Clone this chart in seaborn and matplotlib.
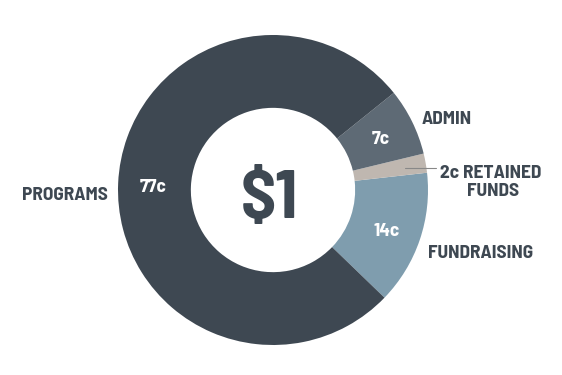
import numpy as np
import matplotlib
matplotlib.use('Agg')
import matplotlib.pyplot as plt
import seaborn as sns

# cents of each dollar, in drawing order (counter-clockwise from lower right)
categories = ['FUNDRAISING', 'RETAINED FUNDS', 'ADMIN', 'PROGRAMS']
cents = [14, 2, 7, 77]
inner_labels = ['14c', '', '7c', '77c']
colors = ['#7f9dae', '#bfb7b0', '#5e6a75', '#3e4852']

sns.set_theme(style='white')
plt.rcParams['font.family'] = ['Barlow Semi Condensed', 'DejaVu Sans']
plt.rcParams['font.weight'] = 'bold'

txt = '#3e4852'
fig = plt.figure(figsize=(5.62, 3.75), dpi=100)
ax = fig.add_axes([0, 0, 1, 1])

wedges, _ = ax.pie(cents, colors=colors, startangle=-44, counterclock=True,
                   radius=1, wedgeprops=dict(width=0.47, linewidth=0))

def px(x, y):
    # pixel position in the 562x375 picture -> data coords
    return (x - 273) / 155, (190 - y) / 155

# white value labels in the ring
for w, lab in zip(wedges, inner_labels):
    if not lab:
        continue
    ang = np.deg2rad((w.theta1 + w.theta2) / 2)
    r = 0.775
    ax.text(r * np.cos(ang), r * np.sin(ang) - 3 / 155, lab, color='white',
            fontsize=14, fontweight='bold', ha='center', va='center')

ax.text(*px(269, 200), '$1', color=txt, fontsize=50, fontweight='bold',
        ha='center', va='center')
ax.text(*px(108, 195), 'PROGRAMS', color=txt, fontsize=14, ha='right', va='center')
ax.text(*px(422, 119), 'ADMIN', color=txt, fontsize=14, ha='left', va='center')
ax.text(*px(440, 174), '2c RETAINED', color=txt, fontsize=14, ha='left', va='center')
ax.text(*px(467, 191), 'FUNDS', color=txt, fontsize=14, ha='left', va='center')
ax.text(*px(428, 253), 'FUNDRAISING', color=txt, fontsize=14, ha='left', va='center')

# leader line for the small slice
x0, y0 = px(405, 168)
x1, y1 = px(436, 168)
ax.plot([x0, x1], [y0, y1], color='#888888', lw=0.8)

ax.set_xlim(-273 / 155, (562 - 273) / 155)
ax.set_ylim(-185 / 155, 190 / 155)
ax.set_aspect('equal')
ax.axis('off')

fig.savefig('out.png', dpi=100, facecolor='white')
